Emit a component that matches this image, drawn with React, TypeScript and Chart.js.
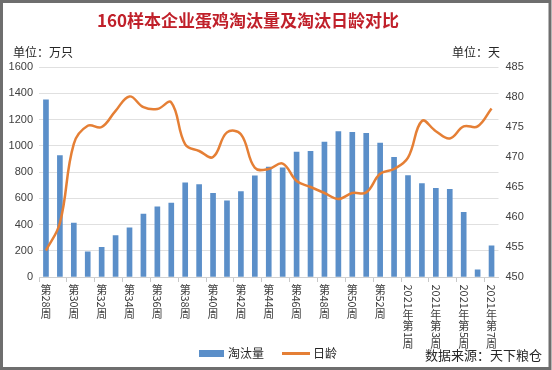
import React, { useEffect, useRef } from 'react';
import { Chart, registerables } from 'chart.js';

Chart.register(...registerables);

const titleText = '160样本企业蛋鸡淘汰量及淘汰日龄对比';
const leftUnit = '单位：万只';
const rightUnit = '单位：天';
const sourceText = '数据来源：天下粮仓';

const categories = [
  '第28周', '第29周', '第30周', '第31周', '第32周', '第33周', '第34周', '第35周',
  '第36周', '第37周', '第38周', '第39周', '第40周', '第41周', '第42周', '第43周',
  '第44周', '第45周', '第46周', '第47周', '第48周', '第49周', '第50周', '第51周',
  '第52周', '第53周', '2021年第1周', '2021年第2周', '2021年第3周', '2021年第4周',
  '2021年第5周', '2021年第6周', '2021年第7周',
];

const volumeLabel = '淘汰量';
const volumeValues = [
  1350, 926, 411, 191, 227, 316, 375, 480, 534, 564, 717, 704, 638, 580, 651, 771,
  838, 832, 952, 957, 1028, 1108, 1103, 1095, 1021, 911, 773, 712, 676, 668, 492, 54, 237,
];

const ageLabel = '日龄';
const ageValues = [
  454.4, 459.0, 472.2, 475.2, 475.0, 477.7, 480.1, 478.3, 478.0, 479.1, 472.1, 471.0,
  470.0, 474.1, 473.8, 468.2, 468.0, 468.9, 466.0, 465.0, 464.0, 463.0, 464.0, 464.1,
  467.2, 468.0, 469.9, 476.0, 474.3, 473.1, 475.1, 475.1, 478.1,
];

const leftMin = 0;
const leftMax = 1600;
const leftStep = 200;
const rightMin = 450;
const rightMax = 485;
const rightStep = 5;

const BAR_COLOR = '#5B8FC9';
const LINE_COLOR = '#E57F35';
const FONT = '"Noto Sans CJK SC", "Noto Sans", sans-serif';
const NUM_FONT = '"Liberation Sans", "Noto Sans", sans-serif';

function drawVerticalLabel(ctx: CanvasRenderingContext2D, text: string, cx: number, top: number, size: number) {
  const runs = text.match(/[0-9]+|./gu) || [];
  let y = top;
  for (const r of runs) {
    if (/^[0-9]+$/.test(r)) {
      const w = ctx.measureText(r).width;
      ctx.save();
      ctx.translate(cx, y + w / 2 + 0.5);
      ctx.rotate(Math.PI / 2);
      ctx.textAlign = 'center';
      ctx.textBaseline = 'middle';
      ctx.fillText(r, 0, 0);
      ctx.restore();
      y += w + 1;
    } else {
      ctx.textAlign = 'center';
      ctx.textBaseline = 'top';
      ctx.fillText(r, cx, y);
      y += size;
    }
  }
}

const overlayPlugin = {
  id: 'overlay',
  beforeDraw(chart: any) {
    const { ctx, width, height } = chart;
    ctx.save();
    ctx.fillStyle = '#ffffff';
    ctx.fillRect(0, 0, width, height);
    ctx.restore();
  },
  afterDraw(chart: any) {
    const { ctx } = chart;
    ctx.save();
    // title
    ctx.fillStyle = '#C0202A';
    ctx.font = `bold 17px ${FONT}`;
    ctx.textAlign = 'center';
    ctx.textBaseline = 'middle';
    ctx.fillText(titleText, 248, 21);
    // units
    ctx.fillStyle = '#262626';
    ctx.font = `12px ${FONT}`;
    ctx.textAlign = 'left';
    ctx.fillText(leftUnit, 13, 52);
    ctx.textAlign = 'right';
    ctx.fillText(rightUnit, 500, 52);
    // x labels
    const xs = chart.scales.x;
    ctx.fillStyle = '#404040';
    ctx.font = `11px ${FONT}`;
    categories.forEach((c, i) => {
      if (i % 2 !== 0) return;
      drawVerticalLabel(ctx, c, xs.getPixelForValue(i), xs.top + 7, 11);
    });
    // legend
    const ds = chart.data.datasets;
    ctx.font = `12px ${FONT}`;
    ctx.textAlign = 'left';
    ctx.textBaseline = 'middle';
    ctx.fillStyle = ds[0].backgroundColor;
    ctx.fillRect(199, 350, 25, 7);
    ctx.fillStyle = '#262626';
    ctx.fillText(ds[0].label, 228, 353.5);
    ctx.strokeStyle = ds[1].borderColor;
    ctx.lineWidth = 3;
    ctx.beginPath();
    ctx.moveTo(282, 353.5);
    ctx.lineTo(310, 353.5);
    ctx.stroke();
    ctx.fillText(ds[1].label, 313, 353.5);
    // source
    ctx.font = `13px ${FONT}`;
    ctx.fillText(sourceText, 425, 355);
    // frame
    ctx.strokeStyle = '#6e6e6e';
    ctx.lineWidth = 3;
    ctx.strokeRect(1.5, 1.5, 548.5, 367);
    ctx.restore();
  },
};

export default function App() {
  const ref = useRef<HTMLCanvasElement | null>(null);
  useEffect(() => {
    document.body.style.margin = '0';
    if (!ref.current) return;
    const chart = new Chart(ref.current, {
      type: 'bar',
      data: {
        labels: categories,
        datasets: [
          {
            type: 'bar',
            label: volumeLabel,
            data: volumeValues,
            backgroundColor: BAR_COLOR,
            barThickness: 5,
            yAxisID: 'y',
            order: 2,
          } as any,
          {
            type: 'line',
            label: ageLabel,
            data: ageValues,
            borderColor: LINE_COLOR,
            backgroundColor: LINE_COLOR,
            borderWidth: 2.5,
            pointRadius: 0,
            tension: 0.4,
            yAxisID: 'y1',
            order: 1,
          } as any,
        ],
      },
      options: {
        responsive: true,
        maintainAspectRatio: false,
        animation: false,
        layout: { padding: { top: 67, left: 0, right: 0, bottom: 0 } },
        plugins: {
          legend: { display: false },
          title: { display: false },
          tooltip: { enabled: false },
        },
        scales: {
          x: {
            offset: true,
            grid: {
              display: true,
              drawOnChartArea: false,
              offset: true,
              tickLength: 5,
              color: (c: any) => (c.index % 2 === 0 ? '#C8C8C8' : 'rgba(0,0,0,0)'),
            },
            border: { display: true, color: '#D0D0D0' },
            ticks: { display: false, autoSkip: false },
            afterFit: (s: any) => { s.height = 93; },
          },
          y: {
            position: 'left',
            min: leftMin,
            max: leftMax,
            ticks: {
              stepSize: leftStep,
              padding: 6,
              color: '#404040',
              font: { family: NUM_FONT, size: 11 },
              callback: (v: any) => String(v),
            },
            grid: { color: '#E0E0E0', drawTicks: false },
            border: { display: false },
            afterFit: (s: any) => { s.width = 39; },
          },
          y1: {
            position: 'right',
            min: rightMin,
            max: rightMax,
            ticks: {
              stepSize: rightStep,
              padding: 7,
              color: '#404040',
              font: { family: NUM_FONT, size: 11 },
              callback: (v: any) => String(v),
            },
            grid: { display: false, drawTicks: false },
            border: { display: false },
            afterFit: (s: any) => { s.width = 53.5; },
          },
        },
      },
      plugins: [overlayPlugin],
    });
    return () => chart.destroy();
  }, []);
  return (
    <div style={{ position: 'fixed', left: 0, top: 0, width: 552, height: 370, background: '#fff' }}>
      <canvas ref={ref} style={{ width: 552, height: 370 }} />
    </div>
  );
}
